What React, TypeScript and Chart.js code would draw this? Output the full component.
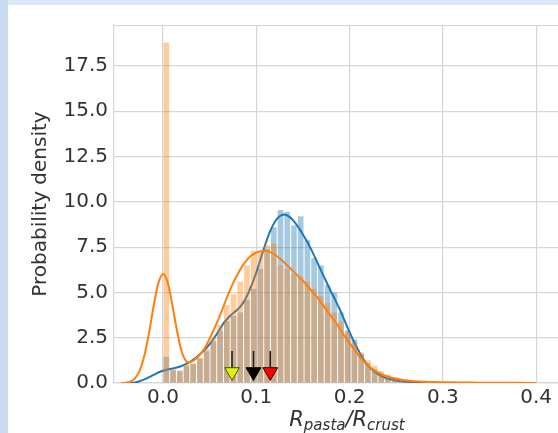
import React, { useEffect, useRef } from 'react';
import { Chart, registerables } from 'chart.js';

Chart.register(...registerables);

// ---- data ----
const binCenters = [
  0.0036, 0.0108, 0.018, 0.0252, 0.0324, 0.0396, 0.0468, 0.054, 0.0612, 0.0684,
  0.0756, 0.0828, 0.09, 0.0972, 0.1044, 0.1116, 0.1188, 0.126, 0.1332, 0.1404,
  0.1476, 0.1548, 0.162, 0.1692, 0.1764, 0.1836, 0.1908, 0.198, 0.2052, 0.2124,
  0.2196, 0.2268, 0.234, 0.2412, 0.2484, 0.2556, 0.2628, 0.27,
];
const blueHist = [
  1.45, 0.72, 0.65, 0.95, 1.05, 1.35, 1.75, 2.3, 2.9, 3.4,
  3.7, 3.9, 4.6, 5.2, 6.3, 7.4, 8.6, 9.55, 9.45, 8.7,
  9.2, 7.9, 6.9, 6.5, 5.4, 5.0, 3.9, 2.9, 2.4, 1.6,
  1.1, 0.75, 0.5, 0.3, 0.2, 0.12, 0.06, 0.03,
];
const orangeHist = [
  18.8, 0.75, 0.7, 1.0, 1.1, 1.4, 1.9, 2.5, 3.2, 4.3,
  4.9, 5.6, 6.5, 7.3, 7.2, 7.6, 7.7, 6.5, 6.3, 6.0,
  5.9, 5.6, 5.2, 4.8, 4.4, 3.9, 3.4, 2.8, 2.2, 1.7,
  1.25, 0.95, 0.65, 0.45, 0.32, 0.22, 0.15, 0.1,
];

const blueKdeX = [
  -0.035, -0.03, -0.025, -0.02, -0.015, -0.01, -0.005, 0, 0.005, 0.01,
  0.015, 0.02, 0.025, 0.03, 0.035, 0.04, 0.045, 0.05, 0.055, 0.06,
  0.065, 0.07, 0.075, 0.08, 0.085, 0.09, 0.095, 0.1, 0.105, 0.11,
  0.115, 0.12, 0.125, 0.13, 0.135, 0.14, 0.145, 0.15, 0.155, 0.16,
  0.165, 0.17, 0.175, 0.18, 0.185, 0.19, 0.195, 0.2, 0.205, 0.21,
  0.215, 0.22, 0.225, 0.23, 0.235, 0.24, 0.245, 0.25, 0.255, 0.26,
  0.265, 0.27, 0.28, 0.29, 0.3,
];
const blueKdeY = [
  0.0, 0.03, 0.1, 0.2, 0.32, 0.45, 0.58, 0.68, 0.75, 0.8,
  0.86, 0.94, 1.05, 1.2, 1.38, 1.6, 1.85, 2.15, 2.5, 2.9,
  3.3, 3.6, 3.85, 4.05, 4.35, 4.8, 5.4, 6.1, 6.9, 7.7,
  8.4, 8.9, 9.2, 9.3, 9.2, 8.95, 8.6, 8.2, 7.75, 7.25,
  6.7, 6.15, 5.6, 5.05, 4.55, 4.0, 3.4, 2.8, 2.25, 1.75,
  1.3, 0.95, 0.7, 0.5, 0.36, 0.26, 0.19, 0.14, 0.1, 0.07,
  0.05, 0.03, 0.015, 0.005, 0.0,
];

const orangeKdeX = [
  -0.045, -0.04, -0.035, -0.03, -0.025, -0.02, -0.015, -0.01, -0.005, 0,
  0.005, 0.01, 0.015, 0.02, 0.025, 0.03, 0.035, 0.04, 0.045, 0.05,
  0.055, 0.06, 0.065, 0.07, 0.075, 0.08, 0.085, 0.09, 0.095, 0.1,
  0.105, 0.11, 0.115, 0.12, 0.125, 0.13, 0.135, 0.14, 0.145, 0.15,
  0.155, 0.16, 0.165, 0.17, 0.175, 0.18, 0.185, 0.19, 0.195, 0.2,
  0.205, 0.21, 0.215, 0.22, 0.225, 0.23, 0.235, 0.24, 0.245, 0.25,
  0.26, 0.27, 0.28, 0.29, 0.3, 0.32, 0.34, 0.36, 0.38, 0.4,
];
const orangeKdeY = [
  0.0, 0.02, 0.08, 0.26, 0.68, 1.5, 2.75, 4.25, 5.5, 6.02,
  5.55, 4.3, 2.9, 1.75, 1.2, 1.17, 1.32, 1.6, 1.95, 2.45,
  3.0, 3.6, 4.25, 4.9, 5.5, 6.0, 6.45, 6.8, 7.05, 7.2,
  7.27, 7.28, 7.22, 7.08, 6.88, 6.65, 6.4, 6.15, 5.9, 5.65,
  5.35, 5.05, 4.75, 4.4, 4.05, 3.7, 3.35, 2.95, 2.55, 2.2,
  1.85, 1.5, 1.2, 0.95, 0.75, 0.6, 0.47, 0.37, 0.3, 0.24,
  0.15, 0.1, 0.07, 0.05, 0.04, 0.03, 0.02, 0.015, 0.01, 0.0,
];

const arrowX = [0.074, 0.097, 0.115];
const arrowFill = ['#e4ee12', '#000000', '#ff0000'];
const arrowEdge = ['#3c5a00', '#000000', '#3a0000'];
const arrowStemTop = 1.77;
const arrowStemBottom = 0.84;
const arrowHeadY = 0.61;

const xTickValues = [0, 0.1, 0.2, 0.3, 0.4];
const yTickStep = 2.5;
const X_MIN = -0.0525;
const X_MAX = 0.447;
const Y_MAX = 19.76;

const BLUE = '#1f77b4';
const ORANGE = '#ff7f0e';
const GRID = '#d6d6d6';
const TEXT = '#333333';

const frameTopPlugin = {
  id: 'frameTop',
  beforeDatasetsDraw(chart: any) {
    const { ctx, chartArea } = chart;
    ctx.save();
    ctx.strokeStyle = GRID;
    ctx.lineWidth = 1.2;
    ctx.beginPath();
    ctx.moveTo(chartArea.left, chartArea.top + 0.5);
    ctx.lineTo(chartArea.right, chartArea.top + 0.5);
    ctx.stroke();
    ctx.restore();
  },
};

const xTitlePlugin = {
  id: 'xTitleMath',
  afterDraw(chart: any) {
    const { ctx, chartArea } = chart;
    const parts = [
      { t: 'R', sub: false },
      { t: 'pasta', sub: true },
      { t: '/R', sub: false },
      { t: 'crust', sub: true },
    ];
    const mainFont = 'italic 21px "DejaVu Sans"';
    const subFont = 'italic 15px "DejaVu Sans"';
    ctx.save();
    ctx.fillStyle = TEXT;
    ctx.textBaseline = 'alphabetic';
    ctx.textAlign = 'left';
    const widths = parts.map((p) => {
      ctx.font = p.sub ? subFont : mainFont;
      return ctx.measureText(p.t).width;
    });
    const total = widths.reduce((a, b) => a + b, 0);
    let x = (chartArea.left + chartArea.right) / 2 - total / 2;
    const baseY = chartArea.bottom + 43;
    parts.forEach((p, i) => {
      ctx.font = p.sub ? subFont : mainFont;
      ctx.fillText(p.t, x, p.sub ? baseY + 4 : baseY);
      x += widths[i];
    });
    ctx.restore();
  },
};

export default function App() {
  const ref = useRef<HTMLCanvasElement>(null);

  useEffect(() => {
    if (!ref.current) return;
    const stemData: any[] = [];
    arrowX.forEach((x) => {
      stemData.push({ x, y: arrowStemTop });
      stemData.push({ x, y: arrowStemBottom });
      stemData.push({ x, y: null });
    });

    const chart = new Chart(ref.current, {
      type: 'bar',
      data: {
        datasets: [
          {
            type: 'bar',
            data: binCenters.map((x, i) => ({ x, y: blueHist[i] })),
            backgroundColor: 'rgba(31,119,180,0.4)',
            borderWidth: 0,
            grouped: false,
            barPercentage: 0.84,
            categoryPercentage: 1,
            order: 6,
          } as any,
          {
            type: 'line',
            data: blueKdeX.map((x, i) => ({ x, y: blueKdeY[i] })),
            borderColor: BLUE,
            borderWidth: 2,
            pointRadius: 0,
            tension: 0.35,
            fill: false,
            order: 5,
          },
          {
            type: 'bar',
            data: binCenters.map((x, i) => ({ x, y: orangeHist[i] })),
            backgroundColor: 'rgba(255,127,14,0.4)',
            borderWidth: 0,
            grouped: false,
            barPercentage: 0.84,
            categoryPercentage: 1,
            order: 4,
          } as any,
          {
            type: 'line',
            data: orangeKdeX.map((x, i) => ({ x, y: orangeKdeY[i] })),
            borderColor: ORANGE,
            borderWidth: 2,
            pointRadius: 0,
            tension: 0.35,
            fill: false,
            order: 3,
          },
          {
            type: 'line',
            data: stemData,
            borderColor: '#1a1a1a',
            borderWidth: 1.5,
            pointRadius: 0,
            spanGaps: false,
            order: 2,
          },
          {
            type: 'line',
            data: arrowX.map((x) => ({ x, y: arrowHeadY })),
            showLine: false,
            pointStyle: 'triangle',
            pointRotation: 180,
            pointRadius: 8.5,
            pointBackgroundColor: arrowFill,
            pointBorderColor: arrowEdge,
            pointBorderWidth: 1,
            order: 1,
          } as any,
        ],
      },
      options: {
        animation: false,
        responsive: false,
        events: [],
        layout: { padding: { left: 0, right: 20, top: 25, bottom: 0 } },
        plugins: {
          legend: { display: false },
          tooltip: { enabled: false },
        },
        scales: {
          x: {
            type: 'linear',
            min: X_MIN,
            max: X_MAX,
            offset: false,
            afterFit: (s: any) => {
              s.height = 50;
            },
            afterBuildTicks: (s: any) => {
              s.ticks = xTickValues.map((v) => ({ value: v }));
            },
            ticks: {
              color: TEXT,
              font: { family: '"DejaVu Sans"', size: 20 },
              padding: 3,
              maxRotation: 0,
              autoSkip: false,
              callback: (v: any) => Number(v).toFixed(1),
            },
            grid: { color: GRID, lineWidth: 1.2, drawTicks: false, offset: false },
            border: { color: GRID, width: 1.2 },
          },
          y: {
            type: 'linear',
            min: 0,
            max: Y_MAX,
            afterFit: (s: any) => {
              s.width = 114;
            },
            ticks: {
              stepSize: yTickStep,
              includeBounds: false,
              color: TEXT,
              font: { family: '"DejaVu Sans"', size: 20 },
              padding: 6,
              callback: (v: any) => Number(v).toFixed(1),
            },
            grid: { color: GRID, lineWidth: 1.2, drawTicks: false },
            border: { color: GRID, width: 1.2 },
            title: {
              display: true,
              text: 'Probability density',
              color: TEXT,
              font: { family: '"DejaVu Sans"', size: 20 },
              padding: { top: 29, bottom: 0 },
            },
          },
        },
      },
      plugins: [frameTopPlugin, xTitlePlugin],
    } as any);

    return () => chart.destroy();
  }, []);

  return (
    <div
      style={{
        position: 'fixed',
        left: 0,
        top: 0,
        width: 558,
        height: 433,
        overflow: 'hidden',
        background: '#ffffff',
      }}
    >
      <div style={{ position: 'absolute', left: 0, top: 0, width: 558, height: 5, background: '#dbe8f5' }} />
      <div style={{ position: 'absolute', left: 0, top: 0, width: 8, height: 433, background: '#c8dbf0' }} />
      <canvas ref={ref} width={600} height={433} style={{ position: 'absolute', left: 0, top: 0 }} />
    </div>
  );
}
